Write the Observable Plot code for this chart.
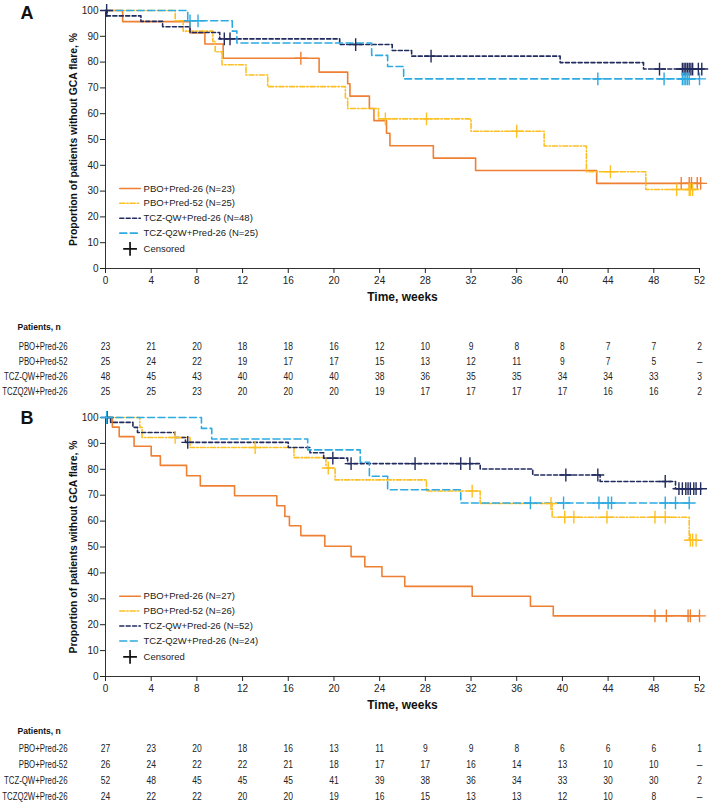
<!DOCTYPE html>
<html><head><meta charset="utf-8">
<script src="https://cdn.jsdelivr.net/npm/d3@7"></script>
<script src="https://cdn.jsdelivr.net/npm/@observablehq/plot@0.6"></script>
<style>
body{margin:0;background:#fff;font-family:"Liberation Sans",Arial,sans-serif}
#root{position:relative;width:709px;height:804px;overflow:hidden}
#root > div{position:absolute;left:0}
</style>
</head><body><div id="root"></div>
<script>
// ---------- categories & tick labels ----------
const groups = ["PBO+Pred-26", "PBO+Pred-52", "TCZ-QW+Pred-26", "TCZ-Q2W+Pred-26"];
const tableLabels = ["PBO+Pred-26", "PBO+Pred-52", "TCZ-QW+Pred-26", "TCZQ2W+Pred-26"];
const weekTicks = [0, 4, 8, 12, 16, 20, 24, 28, 32, 36, 40, 44, 48, 52];
const pctTicks = [0, 10, 20, 30, 40, 50, 60, 70, 80, 90, 100];
const nA = [23, 25, 48, 25];
const nB = [27, 26, 52, 24];

// ---------- Panel A: event times (weeks), survival after event (%), censor times ----------
const A_pbo26_t = [1.5, 7.4, 8.7, 10.3, 18.7, 21.2, 21.4, 23.1, 23.5, 24.6, 24.9, 28.7, 32.4, 43.0];
const A_pbo26_s = [95.7, 91.3, 87.0, 81.5, 76.1, 71.6, 66.8, 62.0, 57.3, 52.4, 47.6, 42.8, 38.0, 33.0];
const A_pbo26_c = [17.1, 50.4, 51.1, 51.3, 51.8, 52.1];

const A_pbo52_t = [6.1, 6.8, 9.4, 9.6, 10.2, 12.3, 14.2, 21.0, 21.2, 23.9, 32.0, 38.4, 42.1, 47.3];
const A_pbo52_s = [96.0, 92.0, 88.0, 84.0, 79.0, 75.0, 70.5, 66.0, 62.0, 58.0, 53.2, 47.5, 37.5, 30.6];
const A_pbo52_c = [24.5, 28.1, 36.0, 44.2, 50.0, 51.1, 51.2, 51.4];

const A_tqw_t = [0.15, 3.1, 5.0, 7.4, 10.0, 20.5, 25.1, 26.8, 39.8, 47.1];
const A_tqw_s = [97.9, 95.8, 93.7, 91.5, 89.0, 86.8, 84.5, 82.3, 79.8, 77.3];
const A_tqw_c = [0.1, 10.4, 10.9, 21.9, 28.5, 48.5, 50.5, 50.65, 50.8, 50.95, 51.1, 51.25, 51.4, 51.9, 52.2];

const A_tq2w_t = [7.2, 11.1, 11.5, 23.3, 24.7, 26.1];
const A_tq2w_s = [96.0, 92.0, 87.4, 82.6, 78.3, 73.5];
const A_tq2w_c = [7.4, 8.1, 43.1, 48.9, 50.5, 50.65, 50.8, 50.95, 51.1, 52.0];

// ---------- Panel B ----------
const B_pbo26_t = [0.6, 1.2, 2.5, 4.0, 4.8, 7.1, 8.3, 11.3, 15.0, 15.7, 16.1, 17.1, 19.2, 21.5, 22.7, 24.2, 26.2, 32.1, 37.2, 39.2];
const B_pbo26_s = [96.3, 92.6, 88.9, 85.2, 81.5, 77.5, 73.6, 69.8, 65.9, 61.8, 58.2, 54.4, 50.3, 46.3, 42.4, 38.6, 34.8, 31.0, 27.1, 23.4];
const B_pbo26_c = [48.1, 49.1, 51.0, 51.2, 52.0];

const B_pbo52_t = [3.0, 3.2, 7.4, 16.5, 19.3, 20.1, 28.1, 32.8, 39.1, 51.1];
const B_pbo52_s = [96.2, 92.3, 88.4, 84.5, 80.5, 75.9, 71.6, 66.8, 61.5, 52.6];
const B_pbo52_c = [6.1, 13.1, 19.5, 32.1, 39.0, 40.2, 41.0, 43.9, 48.1, 49.0, 51.2, 51.4, 51.7];

const B_tqw_t = [0.45, 2.4, 2.8, 6.1, 7.0, 16.0, 17.9, 19.1, 21.2, 32.8, 37.4, 43.3, 49.9];
const B_tqw_s = [98.1, 96.2, 94.2, 92.3, 90.4, 88.4, 86.4, 84.3, 82.2, 80.1, 77.8, 75.3, 72.5];
const B_tqw_c = [0.15, 7.2, 19.9, 21.5, 27.1, 31.1, 31.9, 40.3, 43.1, 49.0, 50.2, 50.5, 50.8, 51.0, 51.2, 51.5, 51.7, 52.1];

const B_tq2w_t = [8.4, 9.3, 17.7, 22.3, 23.1, 24.7, 31.1];
const B_tq2w_s = [95.8, 91.7, 87.5, 82.7, 77.3, 72.1, 67.0];
const B_tq2w_c = [0.1, 37.2, 40.1, 43.2, 44.0, 44.3, 49.0, 49.9, 51.1];

// ---------- Numbers at risk ----------
const A_risk_pbo26 = ["23","21","20","18","18","16","12","10","9","8","8","7","7","2"];
const A_risk_pbo52 = ["25","24","22","19","17","17","15","13","12","11","9","7","5","–"];
const A_risk_tqw   = ["48","45","43","40","40","40","38","36","35","35","34","34","33","3"];
const A_risk_tq2w  = ["25","25","23","20","20","20","19","17","17","17","17","16","16","2"];

const B_risk_pbo26 = ["27","23","20","18","16","13","11","9","9","8","6","6","6","1"];
const B_risk_pbo52 = ["26","24","22","22","21","18","17","17","16","14","13","10","10","–"];
const B_risk_tqw   = ["52","48","45","45","45","41","39","38","36","34","33","30","30","2"];
const B_risk_tq2w  = ["24","22","22","20","20","19","16","15","13","13","12","10","8","–"];

// ---------- styles ----------
const colors = ["#EF8033", "#FDBF22", "#222B5E", "#2CAAE1"];
const dashes = [null, "5,2,1.4,2", "4,2.4", "7,3.5"];
const W = 709, ML = 105, MR = 10;
const FONT = "'Liberation Sans', Arial, sans-serif";
const YLABEL = "Proportion of patients without GCA flare, %";

function stepAt(t, ts, ss) {
  let v = 100;
  for (let i = 0; i < ts.length; i++) if (ts[i] <= t) v = ss[i];
  return v;
}
function kmPath(ts, ss, cs) {
  const end = Math.max(ts[ts.length - 1], ...cs);
  const pts = [{t: 0, s: 100}];
  ts.forEach((t, i) => pts.push({t, s: ss[i]}));
  pts.push({t: end, s: ss[ss.length - 1]});
  return pts;
}
function censPts(ts, ss, cs) { return cs.map(t => ({t, s: stepAt(t, ts, ss)})); }

function kmPlot(series, ns, panel, height, marginTop, marginBottom) {
  const legY = [31, 25.3, 19.5, 13.7, 7.6];
  const marks = [
    Plot.ruleX([0], {stroke: "#333", strokeWidth: 1}),
    Plot.ruleY([0], {stroke: "#333", strokeWidth: 1}),
    Plot.axisX({ticks: weekTicks, tickSize: 5, tickPadding: 3, label: null, fontSize: 10, tickFormat: d => d}),
    Plot.axisY({ticks: pctTicks, tickSize: 5, tickPadding: 2, label: null, fontSize: 10, tickFormat: d => d})
  ];
  series.forEach(([ts, ss, cs], i) => {
    marks.push(Plot.line(kmPath(ts, ss, cs), {x: "t", y: "s", curve: "step-after", stroke: colors[i], strokeWidth: 1.6, strokeDasharray: dashes[i]}));
  });
  series.forEach(([ts, ss, cs], i) => {
    marks.push(Plot.dot(censPts(ts, ss, cs), {x: "t", y: "s", symbol: "plus", r: 4.2, stroke: colors[i], strokeWidth: 1.4}));
  });
  // legend
  groups.forEach((g, i) => {
    marks.push(Plot.line([{t: 1.25, s: legY[i]}, {t: 3.05, s: legY[i]}], {x: "t", y: "s", stroke: colors[i], strokeWidth: 1.6, strokeDasharray: dashes[i]}));
    marks.push(Plot.text([`${g} (N=${ns[i]})`], {x: 3.33, y: legY[i], textAnchor: "start", fontSize: 9.5, fill: "#222"}));
  });
  marks.push(Plot.dot([{t: 2.15, s: legY[4]}], {x: "t", y: "s", symbol: "plus", r: 4.5, stroke: "#111", strokeWidth: 1.7}));
  marks.push(Plot.text(["Censored"], {x: 3.33, y: legY[4], textAnchor: "start", fontSize: 9.5, fill: "#222"}));
  // axis titles and panel letter
  marks.push(Plot.text(["Time, weeks"], {frameAnchor: "bottom", dy: 32, fontSize: 12, fontWeight: "bold", fill: "#111"}));
  marks.push(Plot.text([YLABEL], {frameAnchor: "left", dx: -32, rotate: -90, textAnchor: "middle", lineAnchor: "middle", fontSize: 11.5, fontWeight: "bold", fill: "#111"}));
  marks.push(Plot.text([panel], {frameAnchor: "top-left", dx: -85, dy: panel === "A" ? 3 : 1, textAnchor: "start", lineAnchor: "middle", fontSize: 18, fontWeight: "bold", fill: "#111"}));
  return Plot.plot({
    width: W, height, marginLeft: ML, marginRight: MR, marginTop, marginBottom,
    x: {domain: [0, 52]},
    y: {domain: [0, 100]},
    style: {fontFamily: FONT, fontSize: "10px", color: "#222", background: "white", overflow: "visible"},
    marks
  });
}

function riskPlot(rowsArr, height, marginTop, marginBottom, headerDy) {
  const rows = [];
  rowsArr.forEach((arr, i) => arr.forEach((n, j) => rows.push({label: tableLabels[i], week: weekTicks[j], n})));
  return Plot.plot({
    width: W, height, marginLeft: ML, marginRight: MR, marginTop, marginBottom,
    x: {domain: [0, 52], axis: null},
    y: {type: "point", domain: tableLabels, padding: 0, axis: null},
    style: {fontFamily: FONT, fontSize: "10px", color: "#222", background: "white", overflow: "visible"},
    marks: [
      Plot.text(rows, {x: "week", y: "label", text: "n", fontSize: 10, fill: "#222"}),
      Plot.text(tableLabels, {y: d => d, frameAnchor: "left", dx: -38, textAnchor: "end", fontSize: 10, fill: "#222"}),
      Plot.text(["Patients, n"], {frameAnchor: "top-left", dx: -88, dy: headerDy, textAnchor: "start", lineAnchor: "middle", fontSize: 9.5, fontWeight: "bold", fill: "#111"})
    ]
  });
}

// condense text horizontally (the original uses a narrow typeface)
function condense(svg, test, factor) {
  svg.querySelectorAll("text").forEach(t => {
    if (!test(t.textContent)) return;
    const len = t.getComputedTextLength();
    t.setAttribute("textLength", (len * factor).toFixed(1));
    t.setAttribute("lengthAdjust", "spacingAndGlyphs");
  });
}

const root = document.getElementById("root");
function place(node, top) { const d = document.createElement("div"); d.style.top = top + "px"; d.appendChild(node); root.appendChild(d); return node; }

const kmA = place(kmPlot([[A_pbo26_t, A_pbo26_s, A_pbo26_c], [A_pbo52_t, A_pbo52_s, A_pbo52_c], [A_tqw_t, A_tqw_s, A_tqw_c], [A_tq2w_t, A_tq2w_s, A_tq2w_c]], nA, "A", 310, 10, 42), 0);
const rkA = place(riskPlot([A_risk_pbo26, A_risk_pbo52, A_risk_tqw, A_risk_tq2w], 92, 36, 11, -20), 310);
const kmB = place(kmPlot([[B_pbo26_t, B_pbo26_s, B_pbo26_c], [B_pbo52_t, B_pbo52_s, B_pbo52_c], [B_tqw_t, B_tqw_s, B_tqw_c], [B_tq2w_t, B_tq2w_s, B_tq2w_c]], nB, "B", 316, 15, 42), 402);
const rkB = place(riskPlot([B_risk_pbo26, B_risk_pbo52, B_risk_tqw, B_risk_tq2w], 86, 30, 8, -18), 718);

[rkA, rkB].forEach(svg => {
  condense(svg, s => tableLabels.includes(s), 0.78);
  condense(svg, s => s === "Patients, n", 0.9);
  condense(svg, s => /^[0-9]+$/.test(s), 0.85);
});
[kmA, kmB].forEach(svg => condense(svg, s => s === YLABEL, 0.9));
</script>
</body></html>
